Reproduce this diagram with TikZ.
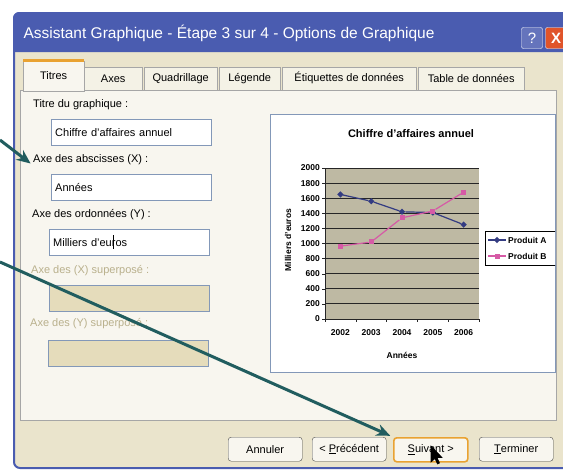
\documentclass[tikz,border=0pt]{standalone}
\usepackage{fontspec}
\setmainfont{Liberation Sans}
\usetikzlibrary{positioning, arrows.meta, shapes.geometric}

\definecolor{titlebar}{HTML}{4A5CB0}
\definecolor{dlgbeige}{HTML}{EAE4CC}
\definecolor{panelbg}{HTML}{F8F6EF}
\definecolor{fieldline}{HTML}{8398B8}
\definecolor{offfill}{HTML}{E5DCBB}
\definecolor{offtext}{HTML}{B9B08C}
\definecolor{plotbg}{HTML}{BEB9A3}
\definecolor{serieA}{HTML}{343C82}
\definecolor{serieB}{HTML}{D65AA6}
\definecolor{pointer}{HTML}{215D5F}
\definecolor{btnfocus}{HTML}{E9A232}
\definecolor{closered}{HTML}{E0542A}

\begin{document}
\begin{tikzpicture}[x=1pt,y=-1pt,
  ui/.style={font=\fontsize{11}{13}\selectfont},
  lbl/.style={ui,anchor=west,inner sep=0pt},
  field/.style={ui,draw=fieldline,fill=white,anchor=north west,minimum height=26pt,text width=152pt,inner xsep=4pt,align=left},
  offfield/.style={field,fill=offfill},
  tab/.style={ui,draw=gray!70,fill=dlgbeige!50!white,anchor=south west,minimum height=23pt,inner sep=0pt},
  btn/.style={ui,draw=black!70,fill=panelbg,rounded corners=3pt,minimum height=24pt,minimum width=74pt,inner sep=0pt,anchor=north west},
  tick/.style={font=\bfseries\fontsize{8.5}{9}\selectfont,inner sep=1pt},
  mkA/.style={diamond,fill=serieA,inner sep=0pt,minimum size=6.5pt},
  mkB/.style={rectangle,fill=serieB,inner sep=0pt,minimum size=5pt},
  serA/.style={serieA,line width=1.2pt},
  serB/.style={serieB,line width=1.2pt},
  hint/.style={pointer,line width=3pt,-{Stealth[length=14pt,width=12pt]},shorten >=3pt}]
\useasboundingbox[fill=white] (0,0) rectangle (563,475);

\node[draw=titlebar,line width=2pt,fill=dlgbeige,anchor=north west,minimum width=565pt,minimum height=455pt,rounded corners=6pt] (dialog) at (13,12) {};
\fill[titlebar] (13,52) [rounded corners=6pt] -- (13,12) -- (580,12) [sharp corners] -- (580,52) -- cycle;
\node[anchor=west,text=white,font=\fontsize{15.5}{17}\selectfont] (title) at (20,33) {Assistant Graphique - Étape 3 sur 4 - Options de Graphique};
\node[draw=white,fill=titlebar!85!white,text=white,minimum size=21pt,inner sep=0pt,rounded corners=2pt,font=\fontsize{15}{15}\selectfont] (help) at (532,38) {?};
\node[draw=white,fill=closered,text=white,minimum size=21pt,inner sep=0pt,rounded corners=2pt,font=\bfseries\fontsize{15}{15}\selectfont] (close) at (556,38) {X};

\node[tab,minimum width=58pt] (tAxes) at (84,90) {Axes};
\node[tab,minimum width=73pt] (tGrid) at (144,90) {Quadrillage};
\node[tab,minimum width=61pt] (tLegend) at (219,90) {Légende};
\node[tab,minimum width=134pt] (tLabels) at (282,90) {Étiquettes de données};
\node[tab,minimum width=106pt] (tTable) at (418,90) {Table de données};
\node[draw=gray!70,fill=panelbg,anchor=north west,minimum width=536pt,minimum height=330pt] (panel) at (20,90) {};
\node[tab,fill=panelbg,draw=gray!70,minimum width=61pt,minimum height=30pt] (tTitres) at (23,91) {Titres};
\draw[btnfocus,line width=2.5pt] (tTitres.north west) -- (tTitres.north east);

\node[lbl] (lblTitle) at (33,105) {Titre du graphique :};
\node[field] (fTitle) at (51,119) {Chiffre d'affaires annuel};
\node[lbl] (lblX) at (33,160) {Axe des abscisses (X) :};
\node[field] (fX) at (51,174) {Années};
\node[lbl] (lblY) at (32,215) {Axe des ordonnées (Y) :};
\node[field] (fY) at (49,229) {Milliers d'eu\rlap{\kern1pt\rule[-3pt]{0.7pt}{14pt}}ros};
\node[lbl,text=offtext] (lblX2) at (31,271) {Axe des (X) superposé :};
\node[offfield] (fX2) at (49,285) {};
\node[lbl,text=offtext] (lblY2) at (30,324) {Axe des (Y) superposé :};
\node[offfield] (fY2) at (48,340) {};

\node[draw=fieldline,fill=white,anchor=north west,minimum width=285pt,minimum height=258pt,inner sep=0pt] (chart) at (270,114) {};
\node[font=\bfseries\fontsize{11}{13}\selectfont] (cTitle) at (411,134) {Chiffre d'affaires annuel};
\fill[plotbg] (325,168) rectangle (479,319);
\foreach \v in {200,400,...,2000}
  \draw[black!85,line width=0.9pt] (325,{319-0.0755*\v}) -- (479,{319-0.0755*\v});
\draw[black!85] (325,168) -- (325,319) -- (479,319);
\foreach \v in {0,200,...,2000}{
  \draw[black!85] (322,{319-0.0755*\v}) -- (325,{319-0.0755*\v});
  \node[tick,anchor=east] at (321,{319-0.0755*\v}) {\v};
}
\foreach \i in {0,...,5}
  \draw[black!85] ({325+30.8*\i},319) -- ({325+30.8*\i},322);
\foreach \yr [count=\i from 0] in {2002,2003,2004,2005,2006}
  \node[tick] (yr\yr) at ({340.4+30.8*\i},333) {\yr};
\node[tick] (xTitle) at (402,355) {Années};
\node[tick,rotate=90] (yTitle) at (288,240) {Milliers d'euros};

\foreach \v [count=\i from 0] in {1650,1560,1420,1410,1250}
  \node[mkA] (a\i) at ({340.4+30.8*\i},{319-0.0755*\v}) {};
\foreach \v [count=\i from 0] in {965,1020,1340,1430,1680}
  \node[mkB] (b\i) at ({340.4+30.8*\i},{319-0.0755*\v}) {};
\draw[serA] (a0) -- (a1) -- (a2) -- (a3) -- (a4);
\draw[serB] (b0) -- (b1) -- (b2) -- (b3) -- (b4);

\begin{scope}
\clip (270,114) rectangle (555,372);
\node[draw=black,line width=0.8pt,fill=white,anchor=north west,minimum width=75pt,minimum height=34pt] (legend) at (485,231) {};
\draw[serA] (488,240) -- (506,240);
\node[mkA] (legA) at (497,240) {};
\node[tick,anchor=west] (legAtxt) at (507,240) {Produit A};
\draw[serB] (488,256) -- (506,256);
\node[mkB] (legB) at (497,256) {};
\node[tick,anchor=west] (legBtxt) at (507,256) {Produit B};
\end{scope}

\node[btn] (btnCancel) at (228,437) {Annuler};
\node[btn] (btnPrev) at (312,437) {< \underline{P}récédent};
\node[btn,draw=btnfocus,line width=1.6pt] (btnNext) at (393,437) {\underline{S}uivant >};
\node[btn] (btnEnd) at (479,437) {\underline{T}erminer};
\draw[fill=white,black,line width=0.6pt,shift={(431,446)}] (0,0) -- (0,16) -- (4,12.5) -- (6.5,18) -- (8.5,17) -- (6,11.5) -- (11,11.5) -- cycle;

\coordinate (tail1) at (0,140);
\coordinate (tail2) at (0,262);
\draw[hint] (tail1) -- (lblX.south west);
\draw[hint] (tail2) -- (btnNext.north west);
\end{tikzpicture}
\end{document}
